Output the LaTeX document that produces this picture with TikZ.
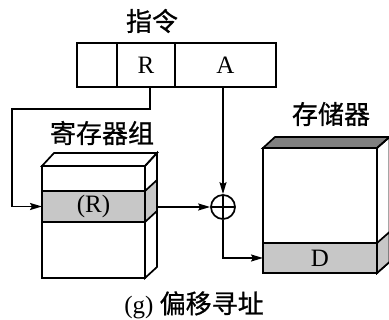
\documentclass[tikz,border=0pt]{standalone}
\usepackage{fontspec}
\setmainfont{Liberation Serif}
\newfontfamily\cjk{Noto Sans CJK SC}[FakeBold=0.8]
\usetikzlibrary{arrows.meta}
\begin{document}
\begin{tikzpicture}[x=1pt,y=-1pt,
  line width=1.7pt, line join=miter,
  box/.style={draw, rectangle, inner sep=0pt, outer sep=0pt, anchor=north west},
  lbl/.style={font=\fontsize{25}{27}\selectfont},
  ctext/.style={font=\cjk\fontsize{26}{28}\selectfont, inner sep=0pt},
  arr/.style={-{Stealth[length=12pt,width=7pt,inset=2pt]}},
  lgray/.style={fill=black!22},
  dgray/.style={fill=black!50},
  adder/.style={draw, circle, minimum size=24pt, inner sep=0pt,
    path picture={\draw[line width=1.5pt] (path picture bounding box.north) -- (path picture bounding box.south)
      (path picture bounding box.west) -- (path picture bounding box.east);}}
]
\useasboundingbox (0,0) rectangle (389,320);
% instruction
\node[ctext] (tinstr) at (152,21) {指令};
\node[box, minimum width=40pt, minimum height=44pt] (f0) at (77,43) {};
\node[box, minimum width=58pt, minimum height=44pt, lbl] (fR) at (117,43) {R};
\node[box, minimum width=101pt, minimum height=44pt, lbl] (fA) at (175,43) {A};
% register group
\node[ctext] (treg) at (102,133) {寄存器组};
\draw (42,166) -- (54,153) -- (157,153) -- (145,166) -- cycle;
\draw (145,166) -- (157,153) -- (157,267) -- (145,278) -- cycle;
\draw[lgray] (145,191) -- (157,180) -- (157,211) -- (145,222) -- cycle;
\node[box, minimum width=103pt, minimum height=112pt] (reg) at (42,166) {};
\node[box, lgray, minimum width=103pt, minimum height=31pt, lbl] (regR) at (42,191) {(R)};
\coordinate (regout) at (157,207);
% memory
\node[ctext] (tmem) at (331,114) {存储器};
\draw[dgray] (263,148) -- (275,137) -- (389.5,137) -- (377,148) -- cycle;
\draw (377,148) -- (389.5,137) -- (389.5,262) -- (377,273) -- cycle;
\draw[lgray] (377,243) -- (389.5,232) -- (389.5,262) -- (377,273) -- cycle;
\node[box, minimum width=114pt, minimum height=125pt] (mem) at (263,148) {};
\node[box, lgray, minimum width=114pt, minimum height=30pt, lbl] (memD) at (263,243) {D};
% adder
\node[adder] (plus) at (223,207) {};
% connectors
\coordinate (bend) at (12,109);
\draw[arr] ([xshift=4pt]fR.south) |- (bend) |- (regR.west);
\draw[arr] (plus.north |- fA.south) -- (plus.north);
\draw[arr] (regout) -- (plus.west);
\draw[arr] (plus.south) |- (memD.west);
% caption
\node[inner sep=0pt] (cap) at (194,305) {\fontsize{25}{27}\selectfont (g) {\cjk\fontsize{26}{28}\selectfont 偏移寻址}};
\end{tikzpicture}
\end{document}
